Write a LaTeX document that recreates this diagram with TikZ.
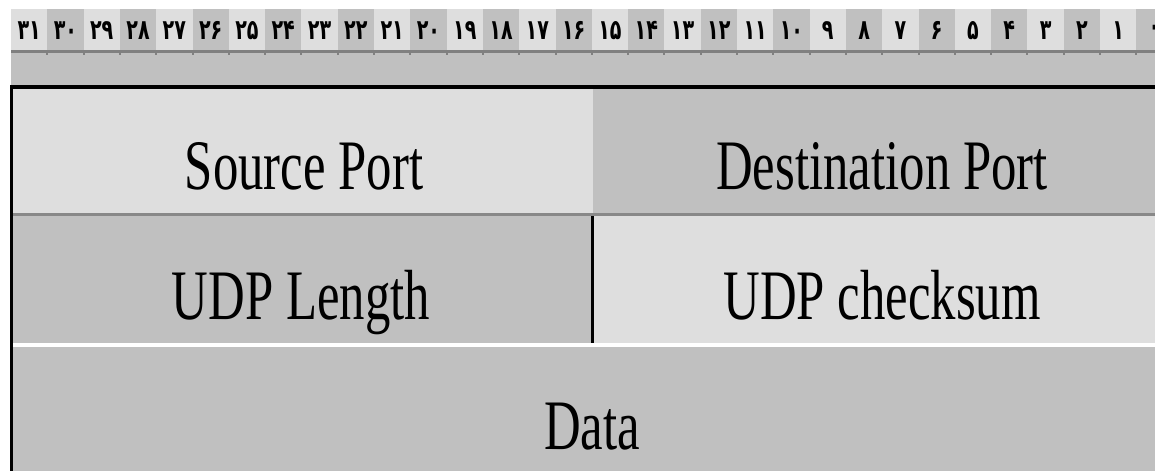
\documentclass[tikz,border=0pt]{standalone}
\usepackage{fontspec}
\usepackage{tikz}
\usetikzlibrary{calc}
\newfontfamily\fieldfont[FakeStretch=0.715]{Liberation Serif}
\newfontfamily\persfont[Script=Arabic, FakeStretch=0.68]{DejaVu Sans}
\definecolor{celllight}{RGB}{222,222,222}
\definecolor{celldark}{RGB}{192,192,192}
\definecolor{rulegray}{RGB}{128,128,128}
\definecolor{sepgray}{RGB}{136,136,136}

\begin{document}
\begin{tikzpicture}[x=0.5pt, y=-0.5pt,
    bitlabel/.style={inner sep=0pt, font=\persfont\bfseries\fontsize{14}{16}\selectfont},
    fieldlabel/.style={inner sep=0pt, anchor=base, font=\fieldfont\fontsize{35.5}{40}\selectfont}]

    \useasboundingbox (0,0) rectangle (1155,471);
    \clip (0,0) rectangle (1155,471);
    \fill[white] (0,0) rectangle (1155,471);

    % bit numbers
    \foreach \lbl [count=\i from 0] in {۳۱,۳۰,۲۹,۲۸,۲۷,۲۶,۲۵,۲۴,۲۳,۲۲,۲۱,۲۰,۱۹,۱۸,۱۷,۱۶,۱۵,۱۴,۱۳,۱۲,۱۱,۱۰,۹,۸,۷,۶,۵,۴,۳,۲,۱,۰}{
        \ifodd\i \def\cellcol{celldark}\else \def\cellcol{celllight}\fi
        \fill[\cellcol] ({11+36.3*\i},9) rectangle ++ (36.3,41);
        \node[bitlabel] (bit\i) at ({11+36.3*(\i+0.5)},30.5) {\lbl};
    }
    \fill[rulegray] (11,50) rectangle (1155,53);
    \fill[celldark] (11,53) rectangle (1155,85);
    \foreach \k in {1,...,31}
        \fill[rulegray] ({11+36.3*\k-1},53) rectangle ++ (2,2);

    % frame
    \fill[black] (10,85) rectangle (1155,89);
    \fill[black] (10,85) rectangle (12.5,471);

    % header fields
    \fill[celllight] (12.5,89) rectangle (592.7,213);
    \fill[celldark] (592.7,89) rectangle (1155,213);
    \fill[sepgray] (12.5,213) rectangle (1155,216);
    \fill[celldark] (12.5,216) rectangle (592.7,343);
    \fill[celllight] (592.7,216) rectangle (1155,343);
    \fill[black] (591,216) rectangle (594,343);
    \fill[white] (12.5,343) rectangle (1155,347);
    \fill[celldark] (12.5,347) rectangle (1155,471);

    \node[fieldlabel] (srcport) at (304,189) {Source Port};
    \node[fieldlabel] (dstport) at (882,189) {Destination Port};
    \node[fieldlabel] (udplen) at (301,319) {UDP Length};
    \node[fieldlabel] (udpsum) at (882,319) {UDP checksum};
    \node[fieldlabel] (data) at (592,449) {Data};

\end{tikzpicture}
\end{document}
